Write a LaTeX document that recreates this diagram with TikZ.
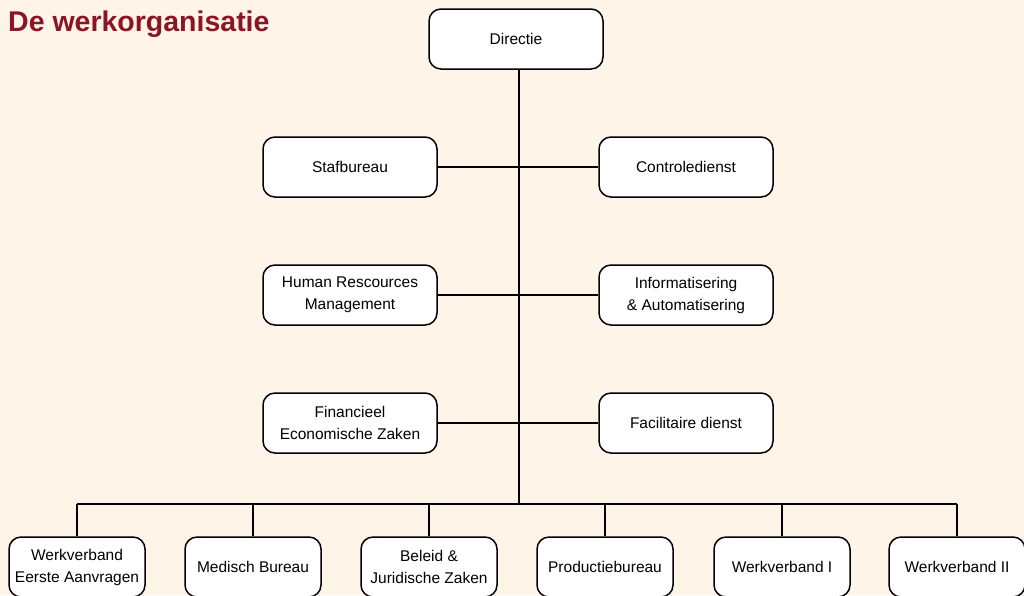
\documentclass[tikz,border=0pt]{standalone}
\usepackage{fontspec}
\setmainfont{Liberation Sans}
\newfontfamily\titlefont{Liberation Sans}
\definecolor{bg}{HTML}{FFF4E8}
\definecolor{titlered}{HTML}{8B1426}
\begin{document}
\begin{tikzpicture}[x=1pt,y=-1pt,
  box/.style={draw=black, line width=1.5pt, fill=white, rounded corners=12pt,
    minimum width=174pt, minimum height=60pt, align=center, inner sep=2pt,
    font=\fontsize{15.5}{22}\selectfont},
  sbox/.style={box, minimum width=136pt},
  conn/.style={line width=2pt}]
\fill[bg] (0,0) rectangle (1024,595);
\useasboundingbox (0,0) rectangle (1024,595);
\node[anchor=base west, text=titlered, font=\titlefont\bfseries\fontsize{28.5}{31}\selectfont, inner sep=0pt] (title) at (8,31) {De werkorganisatie};
% trunk
\coordinate (top) at (519,68);
\coordinate (bus) at (519,504);
\coordinate (busL) at (77,504);
\coordinate (busR) at (957,504);
\draw[conn] (top) -- (bus);
\draw[conn] (busL) -- (busR);
\node[box] (dir) at (516,39) {Directie};
\node[box] (staf) at (350,167) {Stafbureau};
\node[box] (ctrl) at (686,167) {Controledienst};
\node[box] (hrm) at (350,295) {Human Rescources\\Management};
\node[box] (info) at (686,295) {Informatisering\\\& Automatisering};
\node[box] (fin) at (350,423) {Financieel\\Economische Zaken};
\node[box] (fac) at (686,423) {Facilitaire dienst};
\draw[conn] (staf) -- (ctrl);
\draw[conn] (hrm) -- (info);
\draw[conn] (fin) -- (fac);
\node[sbox] (b1) at (77,567) {Werkverband\\Eerste Aanvragen};
\node[sbox] (b2) at (253,567) {Medisch Bureau};
\node[sbox] (b3) at (429,567) {Beleid \&\\Juridische Zaken};
\node[sbox] (b4) at (605,567) {Productiebureau};
\node[sbox] (b5) at (782,567) {Werkverband I};
\node[sbox] (b6) at (957,567) {Werkverband II};
\foreach \b in {b1,b2,b3,b4,b5,b6}{
  \draw[conn] (\b.north) -- (\b.north |- bus);
}
\end{tikzpicture}
\end{document}
